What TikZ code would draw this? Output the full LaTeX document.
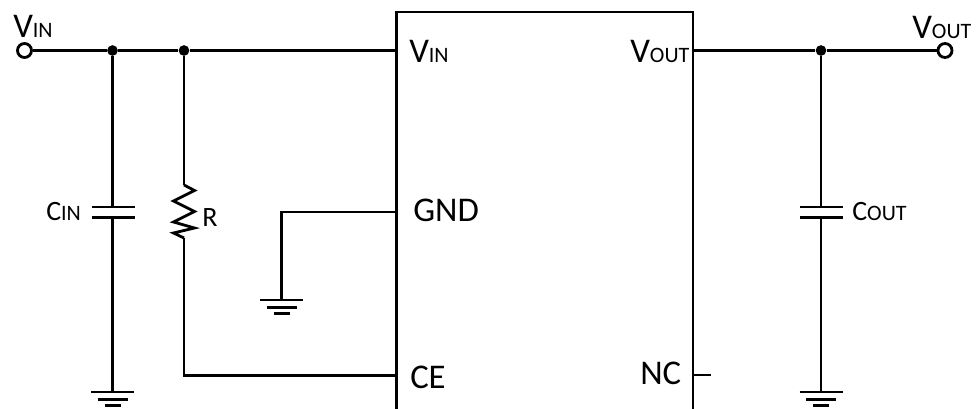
\documentclass[tikz,border=0pt]{standalone}
\usepackage{fontspec}
\setmainfont{Carlito}
\newcommand{\lbig}[1]{{\fontsize{26pt}{28pt}\selectfont #1}}
\newcommand{\lmid}[1]{{\fontsize{21pt}{24pt}\selectfont #1}}
\newcommand{\lsml}[1]{{\fontsize{16.5pt}{19pt}\selectfont #1}}
\begin{document}
\begin{tikzpicture}[x=0.75pt,y=-0.75pt,
  wire/.style={draw=black,line width=2.1pt},
  term/.style={circle,draw=black,fill=white,line width=2.1pt,inner sep=0pt,minimum size=10.5pt},
  junction/.style={circle,fill=black,inner sep=0pt,minimum size=8pt},
  txt/.style={anchor=base west,inner sep=0pt,text=black}]
\useasboundingbox (0,0) rectangle (976,409);
\fill[white] (0,0) rectangle (976,409);
\clip (0,0) rectangle (976,409);
% package
\coordinate (bl) at (396.5,412);
\coordinate (br) at (693,412);
\draw[wire] (bl) -- (396.5,12) -- (693,12) -- (br);
\coordinate (pinvin) at (396.5,50.5);
\coordinate (pingnd) at (396.5,212);
\coordinate (pince) at (396.5,375.5);
\coordinate (pinvout) at (693,50.5);
\coordinate (pinnc) at (693,375);
\coordinate (ncend) at (711,375);
% terminals and junctions
\node[term] (tin) at (24.5,50.5) {};
\node[term] (tout) at (945,50.5) {};
\node[junction] (j1) at (112.5,50.5) {};
\node[junction] (j2) at (184,50.5) {};
\node[junction] (j3) at (821,50.5) {};
% main wires
\draw[wire] (tin) -- (j1) -- (j2) -- (pinvin);
\draw[wire] (pinvout) -- (j3) -- (tout);
\draw[wire] (pinnc) -- (ncend);
% CIN
\coordinate (c1a) at (112.5,207);
\coordinate (c1b) at (112.5,217.5);
\coordinate (g1) at (112.5,392);
\draw[wire] (j1) -- (c1a);
\draw[wire] (c1b) -- (g1);
\draw[wire] (92,207) -- (135,207);
\draw[wire] (92,217.5) -- (135,217.5);
% COUT
\coordinate (c2a) at (821,207);
\coordinate (c2b) at (821,217.5);
\coordinate (g2) at (821,392);
\draw[wire] (j3) -- (c2a);
\draw[wire] (c2b) -- (g2);
\draw[wire] (800,207) -- (843,207);
\draw[wire] (800,217.5) -- (843,217.5);
% R
\coordinate (r1) at (184,185);
\coordinate (r2) at (184,238);
\draw[wire] (j2) -- (r1);
\draw[wire,line join=miter] (r1) -- (194.5,190.5) -- (173.5,201) -- (194.5,211.5) -- (173.5,222) -- (194.5,228) -- (173.5,233) -- (r2);
\draw[wire] (r2) -- (184,375.5) -- (pince);
% GND
\coordinate (g3) at (281.5,300);
\draw[wire] (pingnd) -- (281.5,212) -- (g3);
% ground symbols
\foreach \gx/\gy in {112.5/392,821/392,281.5/300}{
  \draw[wire] (\gx-21.5,\gy) -- (\gx+21.5,\gy);
  \draw[wire] (\gx-15,\gy+7.5) -- (\gx+15,\gy+7.5);
  \draw[wire] (\gx-8,\gy+13.5) -- (\gx+8,\gy+13.5);
}
% labels
\node[txt] (lvin) at (13,37.5) {\lbig{V}\lsml{IN}};
\node[txt] (lvout) at (912,39) {\lbig{V}\lsml{OUT}};
\node[txt] (pvin) at (409,62.5) {\lbig{V}\lsml{IN}};
\node[txt] (pvout) at (630,62.5) {\lbig{V}\lsml{OUT}};
\node[txt] (pgnd) at (413,221.5) {\lbig{GND}};
\node[txt] (pce) at (410,389) {\lbig{CE}};
\node[txt] (pnc) at (640,385) {\lbig{NC}};
\node[txt] (lcin) at (46,221) {\lmid{C}\lsml{IN}};
\node[txt] (lcout) at (852,221) {\lmid{C}\lsml{OUT}};
\node[txt] (lr) at (202,227) {\lmid{R}};
\end{tikzpicture}
\end{document}
